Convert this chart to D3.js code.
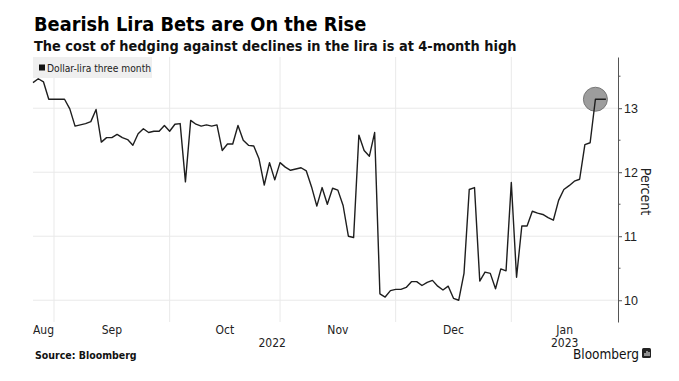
<!DOCTYPE html>
<html>
<head>
<meta charset="utf-8">
<script src="https://cdn.jsdelivr.net/npm/d3@7"></script>
<style>
  body { margin: 0; background: #fff; }
  svg { display: block; font-family: "DejaVu Sans Condensed", "Liberation Sans Narrow", "DejaVu Sans", sans-serif; font-stretch: condensed; }
</style>
</head>
<body>
<div id="chart"></div>
<script>
// first trading day shown, series is one value per weekday from here
const startDate = "2022-08-26"
const seriesName = "Dollar-lira three month"

// dollar-lira three month implied vol, percent
const values = [
  13.40, 13.46, 13.41, 13.14, 13.14, 13.14, 13.14, 12.99, 12.72, 12.74,
  12.76, 12.79, 12.98, 12.47, 12.54, 12.54, 12.59, 12.54, 12.51, 12.42,
  12.60, 12.68, 12.62, 12.64, 12.64, 12.73, 12.64, 12.75, 12.76, 11.85,
  12.81, 12.75, 12.72, 12.74, 12.72, 12.74, 12.34, 12.44, 12.44, 12.73,
  12.50, 12.42, 12.41, 12.21, 11.80, 12.15, 11.88, 12.15, 12.08, 12.03,
  12.05, 12.07, 12.02, 11.77, 11.47, 11.76, 11.50, 11.75, 11.72, 11.48,
  11.00, 10.98, 12.58, 12.34, 12.25, 12.62, 10.10, 10.05, 10.15, 10.17,
  10.17, 10.20, 10.29, 10.29, 10.23, 10.28, 10.31, 10.22, 10.16, 10.22,
  10.03, 10.00, 10.42, 11.73, 11.76, 10.30, 10.44, 10.42, 10.18, 10.49,
  10.46, 11.84, 10.36, 11.16, 11.16, 11.39, 11.36, 11.34, 11.29, 11.25,
  11.56, 11.73, 11.79, 11.86, 11.89, 12.43, 12.46, 13.14, 13.14, 13.14
]

const yTicks = [10, 11, 12, 13]
const yMinorTicks = [10.5, 11.5, 12.5, 13.5]
const monthNames = ["Jan","Feb","Mar","Apr","May","Jun","Jul","Aug","Sep","Oct","Nov","Dec"]

const W = 679, H = 381
const plot = {left: 33, right: 618, top: 57, bottom: 322}

// weekday dates for each value
const dates = []
let d = new Date(startDate + "T00:00:00")
while (dates.length < values.length) {
  if (d.getDay() !== 0 && d.getDay() !== 6) dates.push(new Date(d))
  d.setDate(d.getDate() + 1)
}
const data = values.map((v, i) => ({i: i, date: dates[i], value: v}))

const svg = d3.select("#chart").append("svg")
  .attr("width", W)
  .attr("height", H)

const x = d3.scaleLinear()
  .domain([0, 111.3])
  .range([plot.left, plot.right])

const y = d3.scaleLinear()
  .domain([9.66, 13.8])
  .range([plot.bottom, plot.top])

// month boundaries = first trading day of each month
const monthStarts = data.filter((p, i) => i > 0 && p.date.getMonth() !== data[i - 1].date.getMonth())
const bounds = [0].concat(monthStarts.map(p => p.i), [x.domain()[1]])
const months = []
for (let k = 0; k < bounds.length - 1; k++) {
  months.push({name: monthNames[data[Math.ceil(bounds[k])].date.getMonth()], mid: (bounds[k] + bounds[k + 1]) / 2})
}

// gridlines
const grid = svg.append("g")
grid.selectAll("line.h")
  .data(yTicks)
  .join("line")
    .attr("x1", plot.left).attr("x2", plot.right)
    .attr("y1", v => y(v)).attr("y2", v => y(v))
    .attr("stroke", "#e9e9e9")
grid.selectAll("line.v")
  .data(monthStarts)
  .join("line")
    .attr("x1", p => x(p.i)).attr("x2", p => x(p.i))
    .attr("y1", plot.top).attr("y2", plot.bottom)
    .attr("stroke", "#e9e9e9")

// right axis
const yAxis = d3.axisRight(y)
  .tickValues(yTicks)
  .tickFormat(d3.format("d"))
  .tickSize(4)
  .tickPadding(2)
  .tickSizeOuter(0)
const ax = svg.append("g")
  .attr("transform", `translate(${plot.right},0)`)
  .call(yAxis)
ax.select(".domain").attr("stroke", "#555")
ax.selectAll(".tick line").attr("stroke", "#555")
ax.selectAll(".tick text")
  .attr("font-size", 12.5)
  .attr("fill", "#222")
  .attr("font-family", "inherit")
ax.selectAll("line.minor")
  .data(yMinorTicks)
  .join("line")
    .attr("class", "minor")
    .attr("x1", 0).attr("x2", 2.5)
    .attr("y1", v => y(v)).attr("y2", v => y(v))
    .attr("stroke", "#555")

svg.append("text")
  .attr("transform", `translate(641,${(plot.top + plot.bottom) / 2 + 2}) rotate(90)`)
  .attr("text-anchor", "middle")
  .attr("font-size", 14)
  .attr("fill", "#222")
  .text("Percent")

// month and year labels
svg.append("g").selectAll("text")
  .data(months)
  .join("text")
    .attr("x", m => x(m.mid))
    .attr("y", 334)
    .attr("text-anchor", "middle")
    .attr("font-size", 12)
    .attr("fill", "#222")
    .text(m => m.name)

const yearSplit = monthStarts.find(p => p.date.getMonth() === 0).i
svg.append("g").selectAll("text")
  .data([{t: "2022", a: 0, b: yearSplit}, {t: "2023", a: yearSplit, b: x.domain()[1]}])
  .join("text")
    .attr("x", r => x((r.a + r.b) / 2))
    .attr("y", 347)
    .attr("text-anchor", "middle")
    .attr("font-size", 12)
    .attr("fill", "#222")
    .text(r => r.t)

// highlight where the latest level was first reached (under the line)
let k = data.length - 1
while (k > 0 && data[k - 1].value === data[data.length - 1].value) k--
const latest = data[k]
svg.append("circle")
  .attr("cx", x(latest.i))
  .attr("cy", y(latest.value))
  .attr("r", 12)
  .attr("fill", "#8c8c8c")
  .attr("fill-opacity", 0.85)
  .attr("stroke", "#777")

// series
const line = d3.line()
  .x(p => x(p.i))
  .y(p => y(p.value))

svg.append("path")
  .datum(data)
  .attr("fill", "none")
  .attr("stroke", "#1e1e1e")
  .attr("stroke-width", 1.4)
  .attr("stroke-linejoin", "round")
  .attr("d", line)

// legend
const lg = svg.append("g")
lg.append("rect")
  .attr("x", 33).attr("y", 57)
  .attr("width", 119).attr("height", 21)
  .attr("fill", "#efefef")
lg.append("rect")
  .attr("x", 39).attr("y", 64.5)
  .attr("width", 6).attr("height", 6)
  .attr("fill", "#111")
lg.append("text")
  .attr("x", 47).attr("y", 71.5)
  .attr("font-size", 10.2)
  .attr("fill", "#222")
  .text(seriesName)

// titles
svg.append("text")
  .attr("x", 34).attr("y", 31)
  .attr("font-size", 19.8)
  .attr("font-weight", "bold")
  .attr("fill", "#000")
  .text("Bearish Lira Bets are On the Rise")
svg.append("text")
  .attr("x", 34).attr("y", 51)
  .attr("font-size", 14.4)
  .attr("font-weight", "bold")
  .attr("fill", "#111")
  .text("The cost of hedging against declines in the lira is at 4-month high")

// footer
svg.append("text")
  .attr("x", 35).attr("y", 359)
  .attr("font-size", 10.5)
  .attr("font-weight", "bold")
  .attr("fill", "#111")
  .text("Source: Bloomberg")
svg.append("text")
  .attr("x", 639).attr("y", 359)
  .attr("text-anchor", "end")
  .attr("font-size", 13.5)
  .attr("fill", "#111")
  .text("Bloomberg")
svg.append("rect")
  .attr("x", 642).attr("y", 348)
  .attr("width", 9).attr("height", 10)
  .attr("rx", 1.5)
  .attr("fill", "#222")
svg.append("path")
  .attr("d", "M645,356V353M647,356V351M649,356V352")
  .attr("stroke", "#fff")
  .attr("stroke-width", 1)
</script>
</body>
</html>
